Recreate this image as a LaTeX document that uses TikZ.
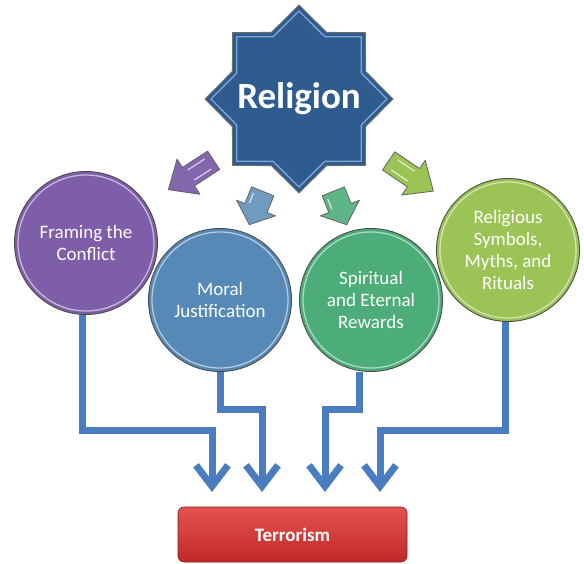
\documentclass[tikz,border=0pt]{standalone}
\usepackage{fontspec}
\setmainfont{Carlito}
\usetikzlibrary{arrows.meta,backgrounds,calc}
\definecolor{starblue}{HTML}{2E5C8E}
\definecolor{starrim}{HTML}{7FA6D2}
\definecolor{cpurple}{HTML}{7E5EA8}
\definecolor{cblue}{HTML}{5689B6}
\definecolor{cgreen}{HTML}{4CAD79}
\definecolor{clime}{HTML}{9CC356}
\definecolor{connblue}{HTML}{4A7DC0}
\definecolor{redtop}{HTML}{E35350}
\definecolor{redbot}{HTML}{C02828}
\definecolor{outline}{HTML}{4A4A4A}
\tikzset{
  bubble/.style={circle, minimum size=143pt, inner sep=0pt, draw=outline, line width=0.9pt,
    text=white, align=center, font=\fontsize{19}{22}\selectfont},
  rim/.style={line width=1.3pt},
  conn/.style={draw=connblue, line width=7pt,
    -{Straight Barb[length=21pt,width=32pt]}},
  blockarrow/.style={line width=0.8pt, line join=round, draw=outline!85},
  starbody/.style={fill=starblue, draw=outline!80, line width=1pt, line join=miter},
  startext/.style={text=white, font=\fontsize{37}{40}\selectfont\bfseries},
  outcome/.style={rectangle, rounded corners=6pt, minimum width=229pt, minimum height=55pt,
    top color=redtop, bottom color=redbot, draw=redbot!70!black, line width=0.6pt,
    text=white, font=\fontsize{19}{22}\selectfont\bfseries}
}
% big block arrow: #1 x, #2 y, #3 angle, #4 colour
\newcommand\bigblockarrow[4]{%
  \begin{scope}[shift={(#1,#2)}, rotate=#3]
    \filldraw[blockarrow, fill=#4]
      (-27,11) -- (3,11) -- (3,21) -- (27,0) -- (3,-21) -- (3,-11) -- (-27,-11) -- cycle;
    \draw[line width=1.2pt, #4!30!white] (-20,6) -- (0,6);
    \draw[line width=1.2pt, #4!30!white] (-20,-6) -- (0,-6);
  \end{scope}}
\newcommand\smallblockarrow[4]{%
  \begin{scope}[shift={(#1,#2)}, rotate=#3]
    \filldraw[blockarrow, fill=#4]
      (-18,12) -- (0,12) -- (0,21) -- (18,0) -- (0,-21) -- (0,-12) -- (-18,-12) -- cycle;
    \draw[line width=1.2pt, #4!30!white] (-13,8) -- (-2,8);
  \end{scope}}
\begin{document}
\begin{tikzpicture}[x=1pt,y=-1pt]
\useasboundingbox (0,0) rectangle (584,563);

% central star
\draw[starbody] plot[samples at={0,...,15}, variable=\k]
  ({299+(mod(\k,2)==0 ? 94 : 72)*cos(90+22.5*\k)}, {99-(mod(\k,2)==0 ? 94 : 72)*sin(90+22.5*\k)}) -- cycle;
\draw[rim, starrim, line join=miter] plot[samples at={0,...,15}, variable=\k]
  ({299+(mod(\k,2)==0 ? 88 : 67.5)*cos(90+22.5*\k)}, {99-(mod(\k,2)==0 ? 88 : 67.5)*sin(90+22.5*\k)}) -- cycle;
\node[startext] (rel) at (299,99) {Religion};

% block arrows
\bigblockarrow{191}{175}{213}{cpurple!95!white}
\smallblockarrow{256}{208}{-112}{cblue!85!white}
\smallblockarrow{340}{208}{-68}{cgreen!90!white}
\bigblockarrow{411}{176}{-34}{clime}

% circles
\node[bubble, fill=cpurple] (c1) at (86,243) {Framing the\\Conflict};
\node[bubble, fill=cblue] (c2) at (220,300) {Moral\\Justification};
\node[bubble, fill=cgreen] (c3) at (371,300) {Spiritual\\and Eternal\\Rewards};
\node[bubble, fill=clime] (c4) at (508,250) {Religious\\Symbols,\\Myths, and\\Rituals};
\draw[rim, cpurple!45!white] (c1) circle[radius=68];
\draw[rim, cblue!45!white] (c2) circle[radius=68];
\draw[rim, cgreen!45!white] (c3) circle[radius=68];
\draw[rim, clime!45!white] (c4) circle[radius=68];

% outcome
\node[outcome] (t) at (292.5,534.5) {Terrorism};

% arrow ends and bends
\coordinate (a1) at (212,492);
\coordinate (a2) at (262,492);
\coordinate (a3) at (325,492);
\coordinate (a4) at (380,492);
\coordinate (k1) at (212,430);
\coordinate (k2) at (262,409);
\coordinate (k3) at (325,409);
\coordinate (k4) at (380,430);

\begin{scope}[on background layer]
\fill[white] (0,0) rectangle (584,563);
\draw[conn] ([xshift=-4pt]c1.south) |- (k1) -- (a1);
\draw[conn] (c2.south) |- (k2) -- (a2);
\draw[conn] ([xshift=-12pt]c3.south) |- (k3) -- (a3);
\draw[conn] ([xshift=-3pt]c4.south) |- (k4) -- (a4);
\end{scope}
\end{tikzpicture}
\end{document}
